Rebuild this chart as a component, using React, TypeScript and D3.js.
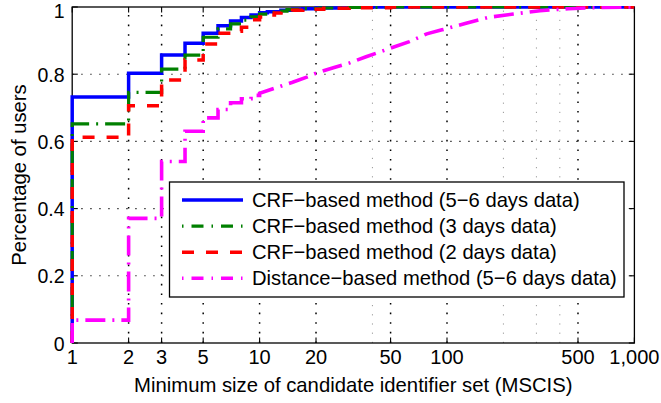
import React from "react";
import * as d3 from "d3";

const W = 661;
const H = 403;

const xTickValues = [1, 2, 3, 5, 10, 20, 50, 100, 500, 1000];
const xTickLabels = ["1", "2", "3", "5", "10", "20", "50", "100", "500", "1,000"];
const xExtraGrid = [40, 200, 300, 400];
const yTickValues = [0, 0.2, 0.4, 0.6, 0.8, 1];
const yTickLabels = ["0", "0.2", "0.4", "0.6", "0.8", "1"];

// CRF-based method (5-6 days data)
const crf56X = [1, 1, 2, 3, 4, 5, 6, 7, 8, 9, 10, 11, 13, 15, 17, 20, 30, 40, 1000];
const crf56Y = [0, 0.732, 0.803, 0.857, 0.892, 0.922, 0.944, 0.958, 0.969, 0.976, 0.983, 0.986, 0.99, 0.993, 0.995, 0.997, 0.999, 1, 1];

// CRF-based method (3 days data)
const crf3X = [1, 1, 2, 3, 4, 5, 6, 7, 8, 9, 10, 11, 12, 14, 17, 21, 30, 50, 1000];
const crf3Y = [0, 0.652, 0.746, 0.815, 0.857, 0.91, 0.935, 0.95, 0.961, 0.971, 0.979, 0.984, 0.988, 0.992, 0.995, 0.997, 0.999, 1, 1];

// CRF-based method (2 days data)
const crf2X = [1, 1, 2, 3, 4, 5, 6, 7, 8, 9, 10, 11, 12, 13, 15, 17, 22, 30, 50, 1000];
const crf2Y = [0, 0.612, 0.706, 0.783, 0.842, 0.89, 0.922, 0.928, 0.94, 0.962, 0.97, 0.976, 0.982, 0.986, 0.99, 0.993, 0.996, 0.998, 1, 1];

// Distance-based method (5-6 days data)
const distX = [1, 1, 2, 3, 4, 5, 6, 7, 8, 9, 10, 12, 15, 18, 20, 25, 30, 37, 48, 63, 78, 94, 125, 166, 226, 313, 444, 600, 1000];
const distY = [0, 0.068, 0.371, 0.54, 0.63, 0.67, 0.695, 0.715, 0.727, 0.737, 0.743, 0.758, 0.776, 0.792, 0.803, 0.82, 0.833, 0.852, 0.874, 0.897, 0.92, 0.932, 0.951, 0.969, 0.979, 0.989, 0.995, 0.998, 1];

const legendLabels = [
  "CRF\u2212based method (5\u22126 days data)",
  "CRF\u2212based method (3 days data)",
  "CRF\u2212based method (2 days data)",
  "Distance\u2212based method (5\u22126 days data)",
];

const FONT = "'Liberation Sans', Arial, Helvetica, sans-serif";

export default function App() {
  const x = d3.scaleLog().domain([1, 1000]).range([72.2, 634.4]);
  const y = d3.scaleLinear().domain([0, 1]).range([343, 7]);
  const x0 = x(1), x1 = x(1000), y0 = y(0), y1 = y(1);

  const stepLine = d3
    .line<[number, number]>()
    .x((d) => x(d[0]))
    .y((d) => y(d[1]))
    .curve(d3.curveStepAfter);
  const linLine = d3
    .line<[number, number]>()
    .x((d) => x(d[0]))
    .y((d) => y(d[1]))
    .curve(d3.curveLinear);

  const pts = (xs: number[], ys: number[]) => xs.map((v, i) => [v, ys[i]] as [number, number]);

  const p56 = stepLine(pts(crf56X, crf56Y)) || "";
  const p3 = stepLine(pts(crf3X, crf3Y)) || "";
  const p2 = stepLine(pts(crf2X, crf2Y)) || "";
  const distPts = pts(distX, distY);
  const split = distX.indexOf(10);
  const head = stepLine(distPts.slice(0, split + 1)) || "";
  const tail = (linLine(distPts.slice(split)) || "").replace(/^M/, "L");
  const pDist = head + tail;

  const series = [
    { d: p56, color: "#0000ff", dash: "none", legDash: "none", w: 3.5 },
    { d: p3, color: "#008000", dash: "20,7,2,7", legDash: "1.5,8,12,8", w: 3.2 },
    { d: p2, color: "#ff0000", dash: "12,12", legDash: "12,12", w: 3.5 },
    { d: pDist, color: "#ff00ff", dash: "20,7,2,7", legDash: "1.5,8,12,8", w: 3.6 },
  ];

  const tickLen = 5.6;

  return (
    <svg
      width={W}
      height={H}
      style={{ position: "absolute", left: 0, top: 0, background: "#fff" }}
      fontFamily={FONT}
    >
      <defs>
        <clipPath id="plotClip">
          <rect x={x0 - 3} y={y1 - 1} width={x1 - x0 + 3} height={y0 - y1 + 1} />
        </clipPath>
      </defs>
      <rect x={0} y={0} width={W} height={H} fill="#fff" />

      {/* horizontal grid */}
      {yTickValues.slice(1, -1).map((v) => (
        <line
          key={"hg" + v}
          x1={x0}
          x2={x1}
          y1={y(v)}
          y2={y(v)}
          stroke="#333"
          strokeWidth={1.1}
          strokeDasharray="1.5,7.5"
        />
      ))}
      {/* vertical grid */}
      {xTickValues.slice(1, -1).map((v) => (
        <line
          key={"vg" + v}
          x1={x(v)}
          x2={x(v)}
          y1={y0}
          y2={y1}
          stroke="#000"
          strokeWidth={1.5}
          strokeDasharray="1.6,8"
        />
      ))}
      {xExtraGrid.map((v) => (
        <line
          key={"vx" + v}
          x1={x(v)}
          x2={x(v)}
          y1={y0}
          y2={y1}
          stroke="#999"
          strokeWidth={1}
          strokeDasharray="1.2,8"
        />
      ))}

      {/* axes box */}
      <rect x={x0} y={y1} width={x1 - x0} height={y0 - y1} fill="none" stroke="#000" strokeWidth={1.3} />
      {xTickValues.map((v) => (
        <g key={"xt" + v}>
          <line x1={x(v)} x2={x(v)} y1={y0} y2={y0 - tickLen} stroke="#000" strokeWidth={1.1} />
          <line x1={x(v)} x2={x(v)} y1={y1} y2={y1 + tickLen} stroke="#000" strokeWidth={1.1} />
        </g>
      ))}
      {yTickValues.map((v) => (
        <g key={"yt" + v}>
          <line x1={x0} x2={x0 + tickLen} y1={y(v)} y2={y(v)} stroke="#000" strokeWidth={1.1} />
          <line x1={x1} x2={x1 - tickLen} y1={y(v)} y2={y(v)} stroke="#000" strokeWidth={1.1} />
        </g>
      ))}

      {/* data */}
      <g clipPath="url(#plotClip)">
        {series.map((s, i) => (
          <path
            key={"s" + i}
            d={s.d}
            fill="none"
            stroke={s.color}
            strokeWidth={s.w}
            strokeDasharray={s.dash}
            strokeLinejoin="miter"
          />
        ))}
      </g>

      {/* tick labels */}
      {xTickValues.map((v, i) => (
        <text key={"xl" + v} x={x(v)} y={364} fontSize={20} textAnchor="middle" fill="#000">
          {xTickLabels[i]}
        </text>
      ))}
      {yTickValues.map((v, i) => (
        <text
          key={"yl" + v}
          x={64.5}
          y={Math.max(y(v) + 7.6, 18)}
          fontSize={19.5}
          textAnchor="end"
          fill="#000"
        >
          {yTickLabels[i]}
        </text>
      ))}

      {/* axis labels */}
      <text x={(x0 + x1) / 2} y={392} fontSize={20.3} textAnchor="middle" fill="#000">
        Minimum size of candidate identifier set (MSCIS)
      </text>
      <text
        x={0}
        y={0}
        fontSize={20.3}
        textAnchor="middle"
        fill="#000"
        transform={`translate(25.5,${(y0 + y1) / 2}) rotate(-90)`}
      >
        Percentage of users
      </text>

      {/* legend */}
      <rect x={169.5} y={182} width={454.5} height={115} fill="#fff" stroke="#000" strokeWidth={1.3} />
      {series.map((s, i) => {
        const cy = 200 + 26.1 * i;
        return (
          <g key={"lg" + i}>
            <line
              x1={182}
              x2={243}
              y1={cy}
              y2={cy}
              stroke={s.color}
              strokeWidth={s.w}
              strokeDasharray={s.legDash}
            />
            <text x={252} y={cy + 7} fontSize={20.2} fill="#000">
              {legendLabels[i]}
            </text>
          </g>
        );
      })}
    </svg>
  );
}
